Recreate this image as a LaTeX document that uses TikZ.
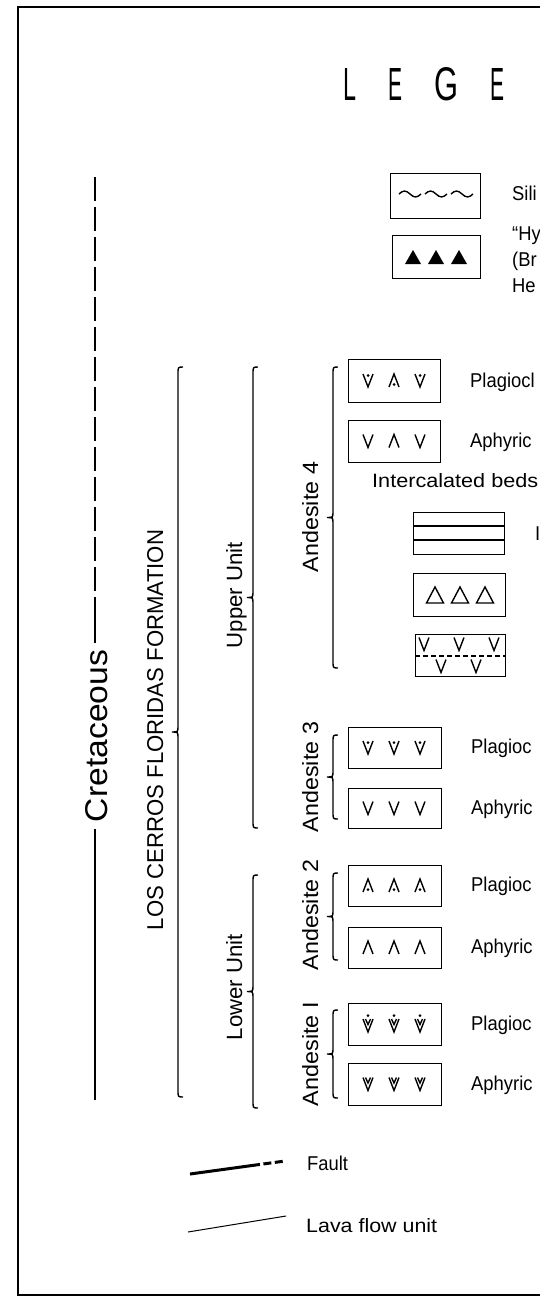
\documentclass[tikz,border=0pt]{standalone}
\usepackage{fontspec}
\setmainfont{Liberation Sans}[FakeStretch=0.92]
\usepackage{graphicx}
\newcommand{\mybrace}[3]{%
  \pgfmathsetmacro{\bm}{(#2+#3)/2}%
  \draw[bracest] (#1+5,#2) .. controls (#1,#2) .. (#1,#2+7) -- (#1,\bm-6)
    .. controls (#1,\bm) .. (#1-6,\bm) .. controls (#1,\bm) .. (#1,\bm+6)
    -- (#1,#3-7) .. controls (#1,#3) .. (#1+5,#3);}
\begin{document}
\begin{tikzpicture}[x=1pt,y=-1pt,
  frame/.style={line width=1.8pt},
  boxst/.style={draw,line width=1.4pt,inner sep=0pt,anchor=north west},
  sym/.style={line width=1.4pt,line join=miter},
  bracest/.style={line width=1.4pt},
  lbl/.style={anchor=base west,inner sep=0pt,font=\fontsize{20}{23}\selectfont},
  rot/.style={rotate=90,anchor=base,inner sep=0pt},
  ttl/.style={anchor=base west,inner sep=0pt},
  pv/.pic={\draw[sym] (-5,-6.5) -- (0,6.5) -- (5,-6.5);},
  pvd/.pic={\draw[sym] (-5,-6.5) -- (0,6.5) -- (5,-6.5); \fill (0,-5) circle (1.5);},
  pl/.pic={\draw[sym] (-5,6.5) -- (0,-6.5) -- (5,6.5);},
  pld/.pic={\draw[sym] (-5,6.5) -- (0,-6.5) -- (5,6.5); \fill (0,4) circle (1.5);},
  pvv/.pic={\draw[sym] (-5,-6.5) -- (0,6.5) -- (5,-6.5); \draw[sym] (-2.5,-6.5) -- (0,-1) -- (2.5,-6.5);},
  pvvd/.pic={\draw[sym] (-5,-5) -- (0,8) -- (5,-5); \draw[sym] (-2.5,-5) -- (0,0.5) -- (2.5,-5); \fill (0,-8.5) circle (1.5);},
  ptri/.pic={\draw[sym] (-8.5,8) -- (0,-8) -- (8.5,8) -- cycle;},
  pftri/.pic={\fill (-8,7) -- (0,-7) -- (8,7) -- cycle;},
]
\useasboundingbox (0,0) rectangle (540,1298);
\fill[white] (0,0) rectangle (540,1298);
% frame
\draw[frame] (540,7) -- (18,7) -- (18,1295) -- (540,1295);
% title
\node[ttl] (tL) at (343,100) {\resizebox{13pt}{32pt}{L}};
\node[ttl] (tE1) at (388,100) {\resizebox{14pt}{32pt}{E}};
\node[ttl] (tG) at (434,100) {\resizebox{24pt}{33pt}{G}};
\node[ttl] (tE2) at (490,100) {\resizebox{14pt}{32pt}{E}};
% top legend boxes
\node[boxst,minimum width=90pt,minimum height=45pt] (sili) at (390,173) {};
\foreach \x in {399,425,451}
  \draw[sym] (\x,194) sin (\x+5.5,191) cos (\x+11,194) sin (\x+16.5,197) cos (\x+22,194);
\node[lbl] (tsili) at (512,200) {Sili};
\node[boxst,minimum width=88pt,minimum height=43pt] (hydro) at (392,235) {};
\foreach \x in {413,436,459} \pic at (\x,257) {pftri};
\node[lbl] (thy) at (512,240) {“Hy};
\node[lbl] (tbr) at (512,266) {(Br};
\node[lbl] (the) at (512,292) {He};
% Cretaceous
\coordinate (ct) at (95,177);
\coordinate (cd) at (95,598);
\coordinate (ce) at (95,643);
\coordinate (cf) at (95,829);
\coordinate (cg) at (95,1100);
\draw[line width=1.6pt,dash pattern=on 24pt off 6pt] (ct) -- (cd);
\draw[line width=1.6pt] (cd) -- (ce);
\draw[line width=1.6pt] (cf) -- (cg);
\node[rot] (cret) at (107,736) {\resizebox{172pt}{22pt}{Cretaceous}};
\node[rot] (form) at (163,730) {\resizebox{400pt}{16pt}{LOS CERROS FLORIDAS FORMATION}};
\node[rot] (upper) at (242,595) {\resizebox{106pt}{16pt}{Upper Unit}};
\node[rot] (lower) at (242,987) {\resizebox{106pt}{16pt}{Lower Unit}};
\node[rot] (and4) at (318,517) {\resizebox{110pt}{16pt}{Andesite 4}};
\node[rot] (and3) at (318,777) {\resizebox{110pt}{16pt}{Andesite 3}};
\node[rot] (and2) at (318,915) {\resizebox{110pt}{16pt}{Andesite 2}};
\node[rot] (and1) at (318,1054) {\resizebox{104pt}{16pt}{Andesite I}};
% braces
\mybrace{178}{367}{1097}
\mybrace{253}{367}{828}
\mybrace{253}{875}{1108}
\mybrace{333}{367}{668}
\mybrace{333}{735}{819}
\mybrace{333}{873}{960}
\mybrace{333}{1010}{1098}
% Andesite 4
\node[boxst,minimum width=92pt,minimum height=43pt] (a4p) at (348,359) {};
\pic at (368,380.5) {pvd}; \pic at (394,380.5) {pld}; \pic at (420,380.5) {pvd};
\node[lbl] (ta4p) at (470,387) {Plagiocl};
\node[boxst,minimum width=92pt,minimum height=42pt] (a4a) at (348,420) {};
\pic at (368,441) {pv}; \pic at (394,441) {pl}; \pic at (420,441) {pv};
\node[lbl] (ta4a) at (470,447.5) {Aphyric};
\node[lbl] (tint) at (372,487) {\resizebox{166pt}{14pt}{Intercalated beds}};
\node[boxst,minimum width=91pt,minimum height=42pt] (beds) at (413,512) {};
\draw[sym] (413,526) -- (504,526);
\draw[sym] (413,540) -- (504,540);
\node[lbl] (tI) at (535,540) {I};
\node[boxst,minimum width=92pt,minimum height=43pt] (tri) at (413,573) {};
\foreach \x in {435,460,485} \pic at (\x,595) {ptri};
\node[boxst,minimum width=90pt,minimum height=42pt] (vbx) at (415,634) {};
\foreach \x in {424,459,494} \pic at (\x,644) {pv};
\draw[line width=1.2pt,dash pattern=on 5pt off 3pt] (415,656) -- (505,656);
\foreach \x in {441,476} \pic at (\x,666) {pv};
% Andesite 3
\node[boxst,minimum width=93pt,minimum height=41pt] (a3p) at (348,727) {};
\foreach \x in {368,394,420} \pic at (\x,747.5) {pvd};
\node[lbl] (ta3p) at (471,753.5) {Plagioc};
\node[boxst,minimum width=93pt,minimum height=40pt] (a3a) at (348,788) {};
\foreach \x in {368,394,420} \pic at (\x,808) {pv};
\node[lbl] (ta3a) at (471,814) {Aphyric};
% Andesite 2
\node[boxst,minimum width=93pt,minimum height=41pt] (a2p) at (348,865) {};
\foreach \x in {368,394,420} \pic at (\x,885.5) {pld};
\node[lbl] (ta2p) at (471,891.5) {Plagioc};
\node[boxst,minimum width=93pt,minimum height=41pt] (a2a) at (348,927) {};
\foreach \x in {368,394,420} \pic at (\x,947.5) {pl};
\node[lbl] (ta2a) at (471,953.5) {Aphyric};
% Andesite 1
\node[boxst,minimum width=93pt,minimum height=42pt] (a1p) at (348,1003) {};
\foreach \x in {368,394,420} \pic at (\x,1024) {pvvd};
\node[lbl] (ta1p) at (471,1030) {Plagioc};
\node[boxst,minimum width=93pt,minimum height=42pt] (a1a) at (348,1063) {};
\foreach \x in {368,394,420} \pic at (\x,1084) {pvv};
\node[lbl] (ta1a) at (471,1090) {Aphyric};
% fault and lava flow
\coordinate (fa) at (190,1174);
\coordinate (fb) at (252,1165.5);
\coordinate (fc) at (285,1161);
\draw[line width=3pt] (fa) -- (fb);
\draw[line width=3pt,dash pattern=on 8pt off 3.5pt] (fb) -- (fc);
\node[lbl] (tfault) at (307,1170) {Fault};
\coordinate (la) at (188,1232);
\coordinate (lb) at (286,1216);
\draw[line width=1pt] (la) -- (lb);
\node[lbl] (tlava) at (306,1232) {\resizebox{131pt}{14pt}{Lava flow unit}};
\end{tikzpicture}
\end{document}
